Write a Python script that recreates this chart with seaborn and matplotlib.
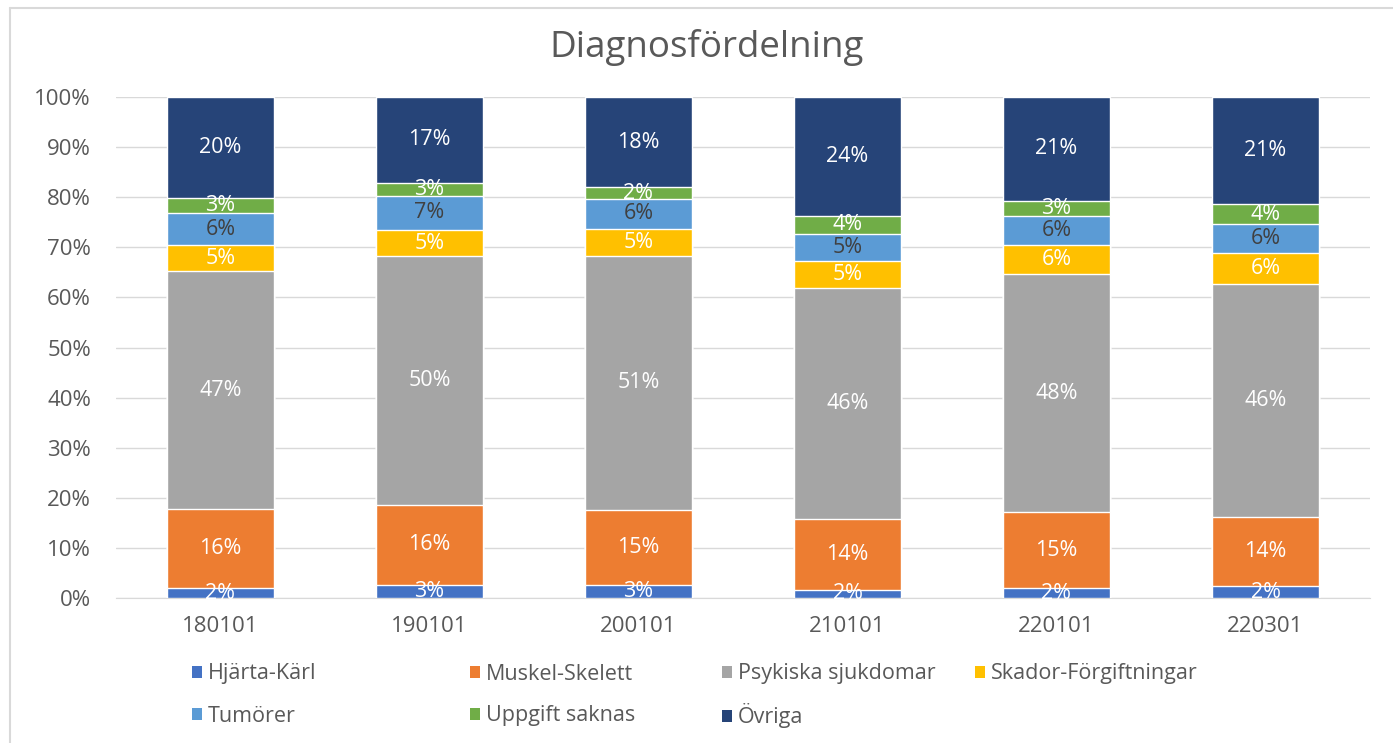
import numpy as np
import pandas as pd
import matplotlib
matplotlib.use("Agg")
import matplotlib.pyplot as plt
from matplotlib.patches import Patch
from matplotlib.lines import Line2D
import seaborn as sns

# data (percent of each date's total)
dates = ["180101", "190101", "200101", "210101", "220101", "220301"]
categories = ["Hjärta-Kärl", "Muskel-Skelett", "Psykiska sjukdomar", "Skador-Förgiftningar",
              "Tumörer", "Uppgift saknas", "Övriga"]
hjarta = [1.9, 2.6, 2.6, 1.6, 1.9, 2.3]
muskel = [15.9, 16.0, 15.0, 14.1, 15.2, 13.8]
psyk = [47.4, 49.7, 50.7, 46.2, 47.6, 46.5]
skador = [5.2, 5.1, 5.4, 5.4, 5.8, 6.2]
tumorer = [6.5, 6.9, 5.9, 5.4, 5.7, 5.8]
uppgift = [3.0, 2.6, 2.4, 3.6, 3.1, 4.0]
ovriga = [20.1, 17.1, 18.0, 23.7, 20.7, 21.4]
colors = ["#4472C4", "#ED7D31", "#A5A5A5", "#FFC000", "#5B9BD5", "#70AD47", "#264478"]
label_colors = ["white", "white", "white", "white", "#404040", "white", "white"]

series = [hjarta, muskel, psyk, skador, tumorer, uppgift, ovriga]
df = pd.DataFrame(dict(zip(categories, series)), index=dates)
cum = df.cumsum(axis=1)

sns.set_style("white")
plt.rcParams["font.family"] = ["Open Sans", "DejaVu Sans"]

W, H = 1393, 743
fig = plt.figure(figsize=(W / 100, H / 100), dpi=100)
ax = fig.add_axes([116 / W, 1 - 598 / H, (1370 - 116) / W, (598 - 97) / H])

# stacked bars: draw cumulative totals from the top layer down
for i in range(len(categories) - 1, -1, -1):
    sns.barplot(x=dates, y=cum[categories[i]].values, color=colors[i], width=0.51,
                saturation=1, ax=ax, zorder=3)

# data labels
for i, cat in enumerate(categories):
    tops = cum[cat].values
    vals = df[cat].values
    for j in range(len(dates)):
        ax.text(j, tops[j] - vals[j] / 2, f"{vals[j]:.0f}%", ha="center", va="center",
                color=label_colors[i], fontsize=15.5, zorder=5)

ax.set_ylim(0, 100)
ax.set_xlim(-0.5, len(dates) - 0.5)
ax.set_yticks(np.arange(0, 101, 10))
ax.set_yticklabels([f"{v}%" for v in range(0, 101, 10)])
ax.yaxis.grid(True, color="#D9D9D9", linewidth=1, zorder=0)
ax.set_axisbelow(True)
for s in ["top", "right", "left"]:
    ax.spines[s].set_visible(False)
ax.spines["bottom"].set_color("#D9D9D9")
ax.tick_params(axis="both", length=0, labelsize=16, colors="#595959")
ax.tick_params(axis="y", pad=18)
ax.tick_params(axis="x", pad=13)
ax.set_xlabel("")
ax.set_ylabel("")

fig.text(707 / W, 1 - 48 / H, "Diagnosfördelning", ha="center", va="center",
         fontsize=26.5, color="#595959")

# legend, one entry per slot so rows line up like the original
col_x = [192, 470, 722, 975, 192, 470, 722]
row_y = [674, 674, 674, 674, 716, 716, 716]
for k in range(len(categories)):
    fig.legend([Patch(facecolor=colors[k], edgecolor="none")], [categories[k]],
               loc="center left", bbox_to_anchor=(col_x[k] / W, 1 - row_y[k] / H),
               frameon=False, fontsize=15.5, labelcolor="#595959",
               handlelength=0.45, handleheight=0.45, handletextpad=0.3,
               borderpad=0, borderaxespad=0)

# chart-area border (left and top edges visible)
fig.add_artist(Line2D([10 / W, 10 / W], [0, 1 - 8 / H], transform=fig.transFigure,
                      color="#D9D9D9", linewidth=1.5))
fig.add_artist(Line2D([10 / W, 1], [1 - 8 / H, 1 - 8 / H], transform=fig.transFigure,
                      color="#D9D9D9", linewidth=1.5))

fig.savefig("out.png", dpi=100)
